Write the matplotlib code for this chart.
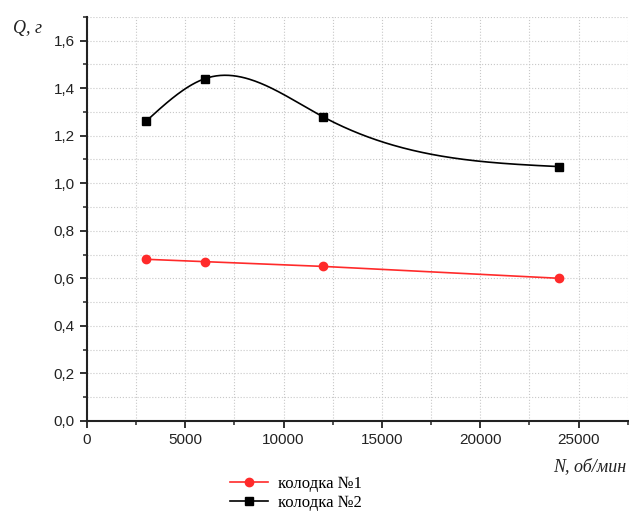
import numpy as np
import matplotlib.pyplot as plt
from matplotlib.ticker import MultipleLocator, FuncFormatter

# Data
rpm = [3000, 6000, 12000, 24000]
q_block1 = [0.68, 0.67, 0.65, 0.60]
q_block2 = [1.26, 1.44, 1.28, 1.07]


def natural_spline(x, y, n=300):
    # smooth line through the points, like the Origin spline connector
    x = np.asarray(x, float)
    y = np.asarray(y, float)
    k = len(x)
    h = np.diff(x)
    A = np.zeros((k, k))
    b = np.zeros(k)
    A[0, 0] = A[-1, -1] = 1
    for i in range(1, k - 1):
        A[i, i - 1] = h[i - 1]
        A[i, i] = 2 * (h[i - 1] + h[i])
        A[i, i + 1] = h[i]
        b[i] = 6 * ((y[i + 1] - y[i]) / h[i] - (y[i] - y[i - 1]) / h[i - 1])
    m = np.linalg.solve(A, b)
    xs = np.linspace(x[0], x[-1], n)
    idx = np.clip(np.searchsorted(x, xs) - 1, 0, k - 2)
    t0 = xs - x[idx]
    t1 = x[idx + 1] - xs
    hi = h[idx]
    ys = (m[idx] * t1 ** 3 + m[idx + 1] * t0 ** 3) / (6 * hi) \
        + (y[idx] / hi - m[idx] * hi / 6) * t1 \
        + (y[idx + 1] / hi - m[idx + 1] * hi / 6) * t0
    return xs, ys


fig = plt.figure(figsize=(6.29, 5.12), dpi=100)
ax = fig.add_axes([0.138, 0.178, 0.86, 0.789])

# series 1 - straight segments
ax.plot(rpm, q_block1, color='#ff2a2a', lw=1.2, marker='o', ms=6,
        label='колодка №1', zorder=3)

# series 2 - smooth curve
sx, sy = natural_spline(rpm, q_block2)
ax.plot(sx, sy, color='black', lw=1.2, zorder=3)
ax.plot(rpm, q_block2, ls='none', color='black', marker='s', ms=6, zorder=4)
ax.plot([], [], color='black', lw=1.2, marker='s', ms=6, label='колодка №2')

ax.set_xlim(0, 27500)
ax.set_ylim(0, 1.7)
ax.xaxis.set_major_locator(MultipleLocator(5000))
ax.xaxis.set_minor_locator(MultipleLocator(2500))
ax.yaxis.set_major_locator(MultipleLocator(0.2))
ax.yaxis.set_minor_locator(MultipleLocator(0.1))
ax.yaxis.set_major_formatter(FuncFormatter(lambda v, p: f'{v:.1f}'.replace('.', ',')))

ax.grid(which='both', color='#c8c8c8', ls=':', lw=0.8)
ax.set_axisbelow(True)
for s in ['top', 'right']:
    ax.spines[s].set_visible(False)
for s in ['left', 'bottom']:
    ax.spines[s].set_linewidth(1.5)
    ax.spines[s].set_color('#222222')
ax.tick_params(which='major', direction='out', length=5, width=1.3,
               labelsize=11, colors='#222222')
ax.tick_params(which='minor', direction='out', length=3, width=1.1, colors='#222222')
for lab in ax.get_xticklabels() + ax.get_yticklabels():
    lab.set_family('Liberation Sans')

fig.text(0.02, 0.935, 'Q, г', family='Liberation Serif', style='italic',
         fontsize=13, color='#222222')
fig.text(0.995, 0.08, 'N, об/мин', family='Liberation Serif', style='italic',
         fontsize=13, color='#222222', ha='right')

fig.legend(loc='center', bbox_to_anchor=(0.47, 0.036), frameon=False,
           prop={'family': 'Liberation Serif', 'size': 12},
           handlelength=2.3, handletextpad=0.6, labelspacing=0.15,
           borderaxespad=0)

fig.savefig('out.png', dpi=100)
